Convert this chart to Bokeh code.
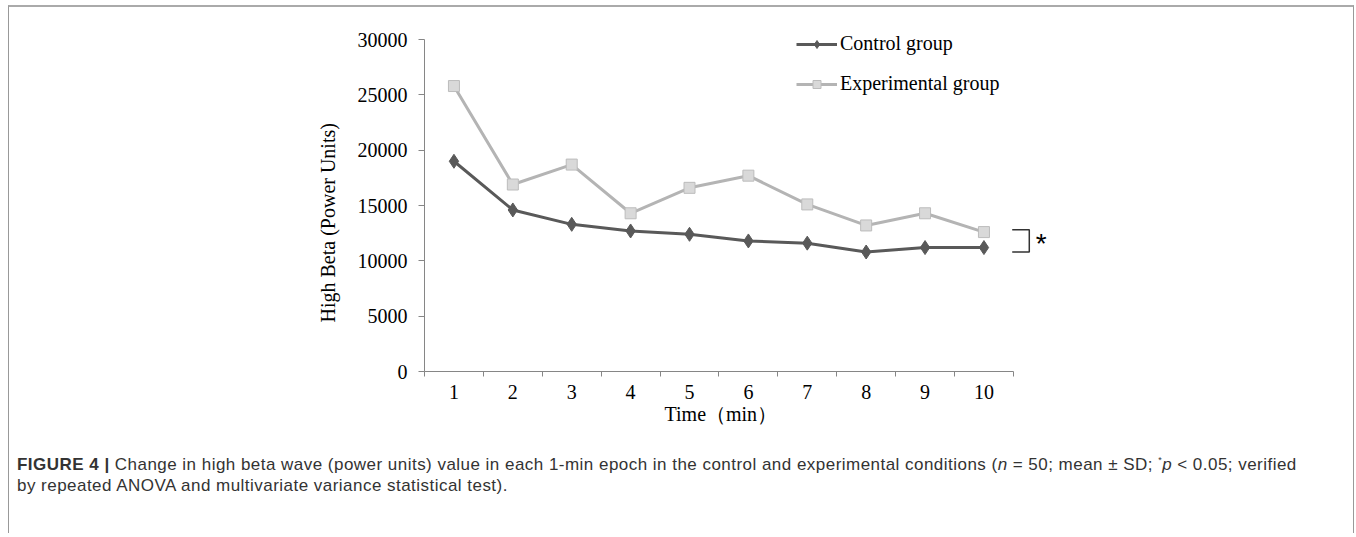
import math
from bokeh.plotting import figure
from bokeh.models import (Range1d, FixedTicker, Legend, LegendItem, Title, Div, ColumnDataSource)
from bokeh.layouts import column
from bokeh.core.properties import value
from bokeh.embed import file_html
from bokeh.resources import INLINE

# ---- data ----
minutes = [1, 2, 3, 4, 5, 6, 7, 8, 9, 10]
minute_labels = ["1", "2", "3", "4", "5", "6", "7", "8", "9", "10"]
control = [19000, 14600, 13300, 12700, 12400, 11800, 11600, 10800, 11200, 11200]
experimental = [25800, 16900, 18700, 14300, 16600, 17700, 15100, 13200, 14300, 12600]
y_ticks = [0, 5000, 10000, 15000, 20000, 25000, 30000]
sig_top = 12800
sig_bottom = 10800

SERIF = "Liberation Serif"
FS = "20px"

p = figure(width=1344, height=443, output_backend="svg", toolbar_location=None,
           x_range=Range1d(0.5, 11.3), y_range=Range1d(0, 31000),
           min_border_left=415, min_border_right=293, min_border_top=21, min_border_bottom=79)
p.outline_line_color = None
p.grid.grid_line_color = None
p.background_fill_color = "white"
p.border_fill_color = "white"

# axes
xa = p.xaxis[0]
xa.ticker = FixedTicker(ticks=minutes, minor_ticks=[m + 0.5 for m in [0] + minutes])
xa.major_label_overrides = {m: l for m, l in zip(minutes, minute_labels)}
xa.bounds = (0.5, 10.5)
xa.axis_line_color = "#868686"
xa.axis_line_width = 1
xa.major_tick_out = 0
xa.major_tick_in = 0
xa.minor_tick_out = 5
xa.minor_tick_in = 0
xa.minor_tick_line_color = "#868686"
xa.major_label_standoff = 8
xa.major_label_text_font = SERIF
xa.major_label_text_font_size = FS
xa.major_label_text_color = "black"

ya = p.yaxis[0]
ya.ticker = FixedTicker(ticks=y_ticks, minor_ticks=[])
ya.bounds = (0, 30000)
ya.axis_line_color = "#868686"
ya.major_tick_line_color = "#868686"
ya.major_tick_out = 6
ya.major_tick_in = 0
ya.minor_tick_out = 0
ya.minor_tick_in = 0
ya.major_label_standoff = 11
ya.major_label_text_font = SERIF
ya.major_label_text_font_size = FS
ya.major_label_text_color = "black"

src = ColumnDataSource(dict(x=minutes, c=control, e=experimental))

e_line = p.line("x", "e", source=src, line_color="#b4b4b4", line_width=3)
e_mark = p.scatter("x", "e", source=src, marker="square", size=11,
                   fill_color="#d9d9d9", line_color="#bcbcbc", line_width=1)
c_line = p.line("x", "c", source=src, line_color="#595959", line_width=3)
c_mark = p.scatter("x", "c", source=src, marker="diamond", size=14,
                   fill_color="#595959", line_color="#595959", line_width=1)

legend = Legend(items=[LegendItem(label="Control group", renderers=[c_line, c_mark]),
                       LegendItem(label="Experimental group", renderers=[e_line, e_mark])],
                location=(372, 276), orientation="vertical")
legend.glyph_width = 41
legend.glyph_height = 20
legend.label_height = 20
legend.spacing = 17
legend.padding = 0
legend.margin = 0
legend.label_standoff = 3
legend.label_text_font = SERIF
legend.label_text_font_size = FS
legend.label_text_color = "black"
legend.border_line_color = None
legend.background_fill_alpha = 0
p.add_layout(legend)

# significance bracket
bx0, bx1 = 10.48, 10.77
p.line([bx0, bx1, bx1, bx0], [sig_top, sig_top, sig_bottom, sig_bottom],
       line_color="#333333", line_width=1.5)
p.text(x=[10.88], y=[(sig_top + sig_bottom) / 2], text=["*"],
       text_font=value("Liberation Sans"), text_font_size="28px", text_font_style="normal",
       text_color="black", text_align="left", text_baseline="middle", y_offset=3)

# axis titles
p.add_layout(Title(text="High Beta (Power Units)", align="left", offset=49,
                   text_font=SERIF, text_font_size=FS, text_font_style="normal",
                   text_color="black", standoff=32), "left")
p.add_layout(Title(text="Time（min）", align="left", offset=240,
                   text_font=SERIF, text_font_size=FS, text_font_style="normal",
                   text_color="black", standoff=-1), "below")

caption = Div(
    text=("<div style=\"font-family:'Liberation Sans',Arial,sans-serif;font-size:17px;line-height:21px;"
          "letter-spacing:0.47px;color:#333333;white-space:nowrap;padding-left:8px\">"
          "<b>FIGURE 4</b>&nbsp;<b>|</b>&nbsp;Change in high beta wave (power units) value in each 1-min epoch "
          "in the control and experimental conditions (<i>n</i> = 50; mean ± SD; <sup style='font-size:9px'>*</sup>"
          "<i>p</i> &lt; 0.05; verified<br>by repeated ANOVA and multivariate variance statistical test).</div>"),
    width=1344, height=83, margin=0)

layout = column(p, caption, margin=(5, 0, 0, 8),
                styles={"border-left": "1px solid #999", "border-right": "1px solid #999",
                        "border-top": "2px solid #aaa"})

open("out.html", "w").write(file_html(layout, INLINE))
